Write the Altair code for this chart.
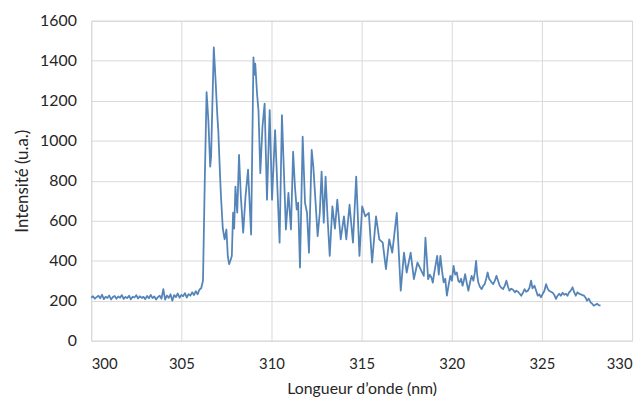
import altair as alt
import pandas as pd

wavelength = [
    300.0, 300.1, 300.2, 300.3, 300.4, 300.5, 300.6, 300.7, 300.8, 300.9,
    301.0, 301.1, 301.2, 301.3, 301.4, 301.5, 301.6, 301.7, 301.8, 301.9,
    302.0, 302.1, 302.2, 302.3, 302.4, 302.5, 302.6, 302.7, 302.8, 302.9,
    303.0, 303.1, 303.2, 303.3, 303.4, 303.5, 303.6, 303.7, 303.8, 303.9,
    304.0, 304.1, 304.2, 304.3, 304.4, 304.5, 304.6, 304.7, 304.8, 304.9,
    305.0, 305.1, 305.2, 305.3, 305.4, 305.5, 305.6, 305.7, 305.8, 305.9,
    306.0, 306.1, 306.2, 306.3, 306.4, 306.5, 306.6, 306.65, 306.8, 306.9,
    307.0, 307.05, 307.15, 307.2, 307.3, 307.4, 307.5, 307.58, 307.65, 307.72,
    307.8, 307.87, 307.93, 308.0, 308.1, 308.2, 308.3, 308.43, 308.56, 308.7,
    308.87, 309.0, 309.05, 309.1, 309.2, 309.28, 309.38, 309.5, 309.62, 309.75,
    309.9, 310.03, 310.2, 310.33, 310.45, 310.58, 310.68, 310.8, 310.94, 311.08,
    311.2, 311.3, 311.4, 311.48, 311.58, 311.73, 311.86, 311.97, 312.08, 312.23,
    312.32, 312.44, 312.56, 312.68, 312.78, 312.9, 313.0, 313.12, 313.23, 313.38,
    313.52, 313.65, 313.84, 314.02, 314.15, 314.33, 314.52, 314.7, 314.88, 315.03,
    315.2, 315.4, 315.58, 315.8, 315.98, 316.17, 316.35, 316.53, 316.7, 316.95,
    317.17, 317.35, 317.5, 317.72, 317.9, 318.1, 318.27, 318.45, 318.54, 318.69,
    318.78, 318.87, 318.95, 319.03, 319.19, 319.28, 319.37, 319.46, 319.55, 319.64,
    319.73, 319.83, 319.92, 320.01, 320.1, 320.19, 320.28, 320.36, 320.43, 320.52,
    320.6, 320.67, 320.74, 320.83, 320.92, 321.01, 321.1, 321.2, 321.28, 321.35,
    321.41, 321.47, 321.56, 321.66, 321.75, 321.83, 321.91, 321.99, 322.07, 322.15,
    322.22, 322.3, 322.39, 322.48, 322.57, 322.66, 322.75, 322.85, 322.94, 323.03,
    323.12, 323.2, 323.3, 323.4, 323.5, 323.58, 323.67, 323.76, 323.85, 323.95,
    324.04, 324.13, 324.22, 324.31, 324.4, 324.48, 324.59, 324.68, 324.77, 324.86,
    324.95, 325.05, 325.14, 325.23, 325.32, 325.4, 325.5, 325.6, 325.68, 325.78,
    325.87, 325.96, 326.05, 326.15, 326.24, 326.33, 326.42, 326.5, 326.6, 326.7,
    326.8, 326.88, 326.97, 327.06, 327.15, 327.25, 327.34, 327.42, 327.5, 327.6,
    327.7, 327.79, 327.88, 327.97, 328.06, 328.15, 328.25,
]

intensity = [
    215, 222, 210, 218, 225, 212, 230, 208, 220, 214,
    226, 206, 218, 224, 210, 221, 215, 228, 209, 219,
    213, 225, 207, 220, 216, 227, 211, 222, 214, 219,
    208, 224, 212, 229, 213, 221, 206, 218, 225, 210,
    258, 205, 226, 214, 232, 200, 228, 218, 236, 215,
    229, 222, 238, 216, 233, 225, 242, 228, 248, 232,
    255, 262, 300, 800, 1243, 1100, 870, 920, 1467, 1300,
    1120, 1050, 820, 720, 560, 507, 556, 420, 383, 400,
    424, 640, 560, 771, 640, 929, 722, 540, 722, 855,
    531, 1417, 1330, 1385, 1235, 1150, 838, 1070, 1186, 705,
    1153, 705, 1053, 760, 490, 1128, 871, 556, 739, 556,
    945, 771, 656, 690, 366, 1020, 689, 640, 440, 954,
    871, 700, 523, 640, 846, 590, 821, 600, 424, 672,
    560, 705, 507, 622, 507, 680, 490, 821, 424, 672,
    622, 639, 391, 622, 507, 490, 358, 507, 440, 639,
    250, 440, 341, 440, 308, 391, 358, 324, 515, 308,
    330, 316, 290, 340, 424, 330, 424, 350, 292, 310,
    225, 280, 324, 300, 374, 330, 341, 300, 292, 310,
    275, 300, 333, 290, 250, 290, 324, 300, 340, 399,
    330, 292, 270, 258, 275, 283, 310, 341, 310, 300,
    290, 283, 300, 324, 300, 275, 265, 258, 275, 300,
    270, 250, 260, 255, 242, 250, 245, 236, 225, 240,
    258, 245, 250, 265, 300, 262, 275, 250, 225, 232,
    217, 235, 250, 283, 260, 250, 245, 240, 230, 209,
    225, 235, 225, 240, 230, 235, 225, 240, 250, 267,
    240, 225, 242, 235, 232, 228, 225, 215, 200, 210,
    192, 185, 175, 180, 185, 178, 175,
]

x_ticks = [300, 305, 310, 315, 320, 325, 330]
y_ticks = [0, 200, 400, 600, 800, 1000, 1200, 1400, 1600]

df = pd.DataFrame({"wl": wavelength, "I": intensity})

font = "Lato"
text_color = "#262626"
grid_color = "#d9d9d9"

chart = (
    alt.Chart(df)
    .mark_line(color="#5585b8", strokeWidth=1.8, strokeJoin="round")
    .encode(
        x=alt.X(
            "wl:Q",
            scale=alt.Scale(domain=[300, 330], nice=False, zero=False),
            axis=alt.Axis(
                values=x_ticks,
                format="d",
                title="Longueur d\u2019onde (nm)",
                labelPadding=16,
                titlePadding=9,
                ticks=False,
                domain=False,
                gridColor=grid_color,
                gridWidth=1,
                labelFontSize=15,
                titleFontSize=16,
                titleFontWeight="normal",
                labelColor=text_color,
                titleColor=text_color,
                labelFont=font,
                titleFont=font,
            ),
        ),
        y=alt.Y(
            "I:Q",
            scale=alt.Scale(domain=[0, 1600], nice=False),
            axis=alt.Axis(
                values=y_ticks,
                format="d",
                title="Intensit\u00e9 (u.a.)",
                labelPadding=15,
                titlePadding=8,
                ticks=False,
                domain=False,
                gridColor=grid_color,
                gridWidth=1,
                labelFontSize=16,
                titleFontSize=17,
                titleFontWeight="normal",
                labelColor=text_color,
                titleColor=text_color,
                labelFont=font,
                titleFont=font,
            ),
        ),
    )
    .properties(
        width=546,
        height=323,
        autosize=alt.AutoSizeParams(type="none"),
        padding={"left": 84, "top": 11, "right": 4, "bottom": 58},
    )
    .configure_view(stroke=grid_color)
)

chart.save("out.html", embed_options={"renderer": "svg", "actions": False})
